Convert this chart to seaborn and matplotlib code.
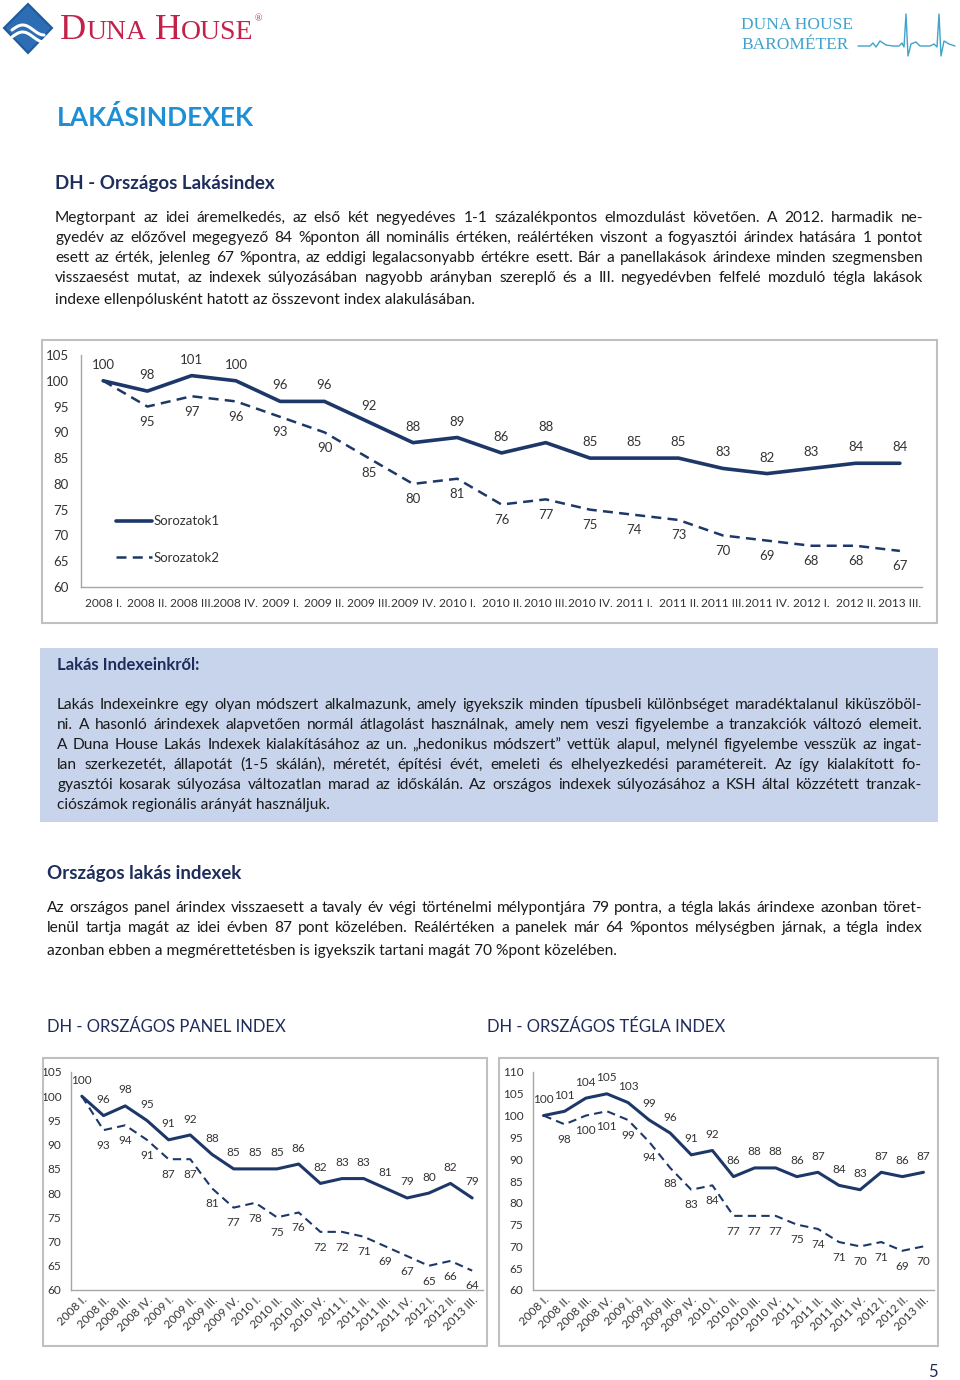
import numpy as np
import matplotlib
matplotlib.use("Agg")
import matplotlib.pyplot as plt
import seaborn as sns
import pandas as pd
from matplotlib.patches import Rectangle, Polygon
from matplotlib.lines import Line2D

# --- Data ---
quarters = ["2008 I.", "2008 II.", "2008 III.", "2008 IV.", "2009 I.", "2009 II.",
            "2009 III.", "2009 IV.", "2010 I.", "2010 II.", "2010 III.", "2010 IV.",
            "2011 I.", "2011 II.", "2011 III.", "2011 IV.", "2012 I.", "2012 II.", "2013 III."]

orszagos_nominal = [100, 98, 101, 100, 96, 96, 92, 88, 89, 86, 88, 85, 85, 85, 83, 82, 83, 84, 84]
orszagos_real = [100, 95, 97, 96, 93, 90, 85, 80, 81, 76, 77, 75, 74, 73, 70, 69, 68, 68, 67]

panel_nominal = [100, 96, 98, 95, 91, 92, 88, 85, 85, 85, 86, 82, 83, 83, 81, 79, 80, 82, 79]
panel_real = [100, 93, 94, 91, 87, 87, 81, 77, 78, 75, 76, 72, 72, 71, 69, 67, 65, 66, 64]

tegla_nominal = [100, 101, 104, 105, 103, 99, 96, 91, 92, 86, 88, 88, 86, 87, 84, 83, 87, 86, 87]
tegla_real = [100, 98, 100, 101, 99, 94, 88, 83, 84, 77, 77, 77, 75, 74, 71, 70, 71, 69, 70]

series_names = ["Sorozatok1", "Sorozatok2"]

para1 = [
    "Megtorpant az idei áremelkedés, az első két negyedéves 1-1 százalékpontos elmozdulást követően. A 2012. harmadik ne-",
    "gyedév az előzővel megegyező 84 %ponton áll nominális értéken, reálértéken viszont a fogyasztói árindex hatására 1 pontot",
    "esett az érték, jelenleg 67 %pontra, az eddigi legalacsonyabb értékre esett. Bár a panellakások árindexe minden szegmensben",
    "visszaesést mutat, az indexek súlyozásában nagyobb arányban szereplő és a III. negyedévben felfelé mozduló tégla lakások",
    "indexe ellenpólusként hatott az összevont index alakulásában.",
]
para2 = [
    "Lakás Indexeinkre egy olyan módszert alkalmazunk, amely igyekszik minden típusbeli különbséget maradéktalanul kiküszöböl-",
    "ni. A hasonló árindexek alapvetően normál átlagolást használnak, amely nem veszi figyelembe a tranzakciók változó elemeit.",
    "A Duna House Lakás Indexek kialakításához az un. „hedonikus módszert” vettük alapul, melynél figyelembe vesszük az ingat-",
    "lan szerkezetét, állapotát (1-5 skálán), méretét, építési évét, emeleti és elhelyezkedési paramétereit. Az így kialakított fo-",
    "gyasztói kosarak súlyozása változatlan marad az időskálán. Az országos indexek súlyozásához a KSH által közzétett tranzak-",
    "ciószámok regionális arányát használjuk.",
]
para3 = [
    "Az országos panel árindex visszaesett a tavaly év végi történelmi mélypontjára 79 pontra, a tégla lakás árindexe azonban töret-",
    "lenül tartja magát az idei évben 87 pont közelében. Reálértéken a panelek már 64 %pontos mélységben járnak, a tégla index",
    "azonban ebben a megmérettetésben is igyekszik tartani magát 70 %pont közelében.",
]

# --- Style ---
sns.set_theme(style="white")
plt.rcParams['font.family'] = ['Lato', 'DejaVu Sans']

NAVY = "#1d3868"
HEAD = "#1f2d5c"
BLUE = "#1e8fd5"
BODY = "#1a1a1a"
GRAY = "#a6a6a6"
LAB = "#333333"
W, H = 960, 1380

fig = plt.figure(figsize=(9.6, 13.8), dpi=100)
renderer = fig.canvas.get_renderer()


def fx(x):
    return x / W


def fy(y):
    return 1 - y / H


def txt(x, y, s, **kw):
    return fig.text(fx(x), fy(y), s, **kw)


def box(x0, y0, x1, y1, **kw):
    fig.add_artist(Rectangle((fx(x0), fy(y1)), (x1 - x0) / W, (y1 - y0) / H,
                             transform=fig.transFigure, **kw))


def paragraph(lines, x0, x1, ys, size=11.2):
    for i, (line, y) in enumerate(zip(lines, ys)):
        if i == len(lines) - 1:
            txt(x0, y, line, fontsize=size, color=BODY, va='center')
            continue
        words = line.split(" ")
        objs = [txt(0, y, w, fontsize=size, color=BODY, va='center') for w in words]
        widths = [o.get_window_extent(renderer).width for o in objs]
        gap = (x1 - x0 - sum(widths)) / (len(words) - 1)
        x = x0
        for o, wd in zip(objs, widths):
            o.set_x(fx(x))
            x += wd + gap


# --- Header ---
diamond = [(28, 4), (52, 28), (28, 53), (4, 28)]
fig.add_artist(Polygon([(fx(a), fy(b)) for a, b in diamond], closed=True,
                       transform=fig.transFigure, fc="#2c6db4", ec="#1f5a9c", lw=1.5))
for dy in (0, 7):
    xs = np.linspace(12, 44, 30)
    ys = 30 + dy - 5 * np.sin((xs - 12) / 32 * np.pi * 1.5)
    fig.add_artist(Line2D(fx(xs), fy(ys), transform=fig.transFigure, color="white", lw=2.2))

x = 60
for piece, size in [("D", 26), ("UNA", 20), ("H", 26), ("OUSE", 20)]:
    t = txt(x, 39, piece, fontsize=size, color="#c3204a", family="Liberation Serif", va='baseline')
    x += t.get_window_extent(renderer).width + (9 if piece == "UNA" else 0)
txt(x + 1, 21, "®", fontsize=7, color="#c3204a", family="Liberation Serif", va='baseline')

txt(741, 25, "DUNA HOUSE", fontsize=12.5, color="#3fa3cc", family="Liberation Serif", va='center')
txt(741, 45, "BAROMÉTER", fontsize=12.5, color="#3fa3cc", family="Liberation Serif", va='center')
beat = [(858, 46), (870, 46), (873, 43), (876, 47), (880, 41), (886, 45), (893, 46), (899, 46),
        (902, 43), (904, 47), (906, 14), (908, 56), (911, 44), (916, 42), (920, 46), (930, 46),
        (934, 44), (937, 47), (939, 14), (941, 56), (944, 41), (949, 44), (955, 46)]
fig.add_artist(Line2D([fx(a) for a, b in beat], [fy(b) for a, b in beat],
                      transform=fig.transFigure, color="#3fa3cc", lw=1))

# --- Headings and text ---
txt(57, 118, "LAKÁSINDEXEK", fontsize=19, fontweight='bold', color=BLUE, va='center')
txt(55, 183, "DH - Országos Lakásindex", fontsize=13.5, fontweight='bold', color=HEAD, va='center')
paragraph(para1, 55, 923, [218, 238, 258, 278, 300])

box(40, 648, 938, 822, fc="#c8d4eb", ec="none")
txt(57, 665, "Lakás Indexeinkről:", fontsize=12, fontweight='bold', color=HEAD, va='center')
paragraph(para2, 57, 922, [705, 725, 745, 765, 785, 805])

txt(47, 873, "Országos lakás indexek", fontsize=13.5, fontweight='bold', color=HEAD, va='center')
paragraph(para3, 47, 922, [908, 928, 951])

txt(47, 1027, "DH - ORSZÁGOS PANEL INDEX", fontsize=12, color=HEAD, va='center')
txt(487, 1027, "DH - ORSZÁGOS TÉGLA INDEX", fontsize=12, color=HEAD, va='center')
txt(928, 1372, "5", fontsize=12, color=HEAD, va='center')

# --- Chart frames ---
box(42, 340, 937, 623, fc="none", ec="#c0c0c0", lw=1.5)
box(43, 1058, 487, 1346, fc="none", ec="#c0c0c0", lw=1.5)
box(499, 1058, 938, 1346, fc="none", ec="#c0c0c0", lw=1.5)


def index_chart(px, nominal, real, ylim, lw, fs, rotate, xfs):
    x0, y0, x1, y1 = px
    ax = fig.add_axes([fx(x0), fy(y1), (x1 - x0) / W, (y1 - y0) / H])
    df = pd.DataFrame({"q": np.arange(len(quarters)), "nominal": nominal, "real": real})
    sns.lineplot(data=df, x="q", y="nominal", ax=ax, color=NAVY, lw=lw[0],
                 label=series_names[0], solid_joinstyle='round', solid_capstyle='round')
    sns.lineplot(data=df, x="q", y="real", ax=ax, color=NAVY, lw=lw[1],
                 dashes=False, linestyle=(0, (4, 2.5)), label=series_names[1])
    for i, (a, b) in enumerate(zip(nominal, real)):
        ax.annotate(f"{a}", (i, a), xytext=(0, 11.5), textcoords='offset points',
                    ha='center', va='center', fontsize=fs, color=LAB)
        if i > 0:
            ax.annotate(f"{b}", (i, b), xytext=(0, -11), textcoords='offset points',
                        ha='center', va='center', fontsize=fs, color=LAB)
    ax.set_xlim(-0.5, len(quarters) - 0.5)
    ax.set_ylim(*ylim)
    ax.set_yticks(np.arange(ylim[0], ylim[1] + 1, 5))
    ax.set_xticks(np.arange(len(quarters)))
    ax.set_xlabel("")
    ax.set_ylabel("")
    for s in ("top", "right"):
        ax.spines[s].set_visible(False)
    for s in ("left", "bottom"):
        ax.spines[s].set_color(GRAY)
        ax.spines[s].set_linewidth(1)
    ax.tick_params(length=0, labelsize=fs, colors=LAB)
    ax.set_facecolor("none")
    if rotate:
        ax.set_xticklabels(quarters, rotation=45, ha='right', rotation_mode='anchor', fontsize=xfs)
        ax.tick_params(axis='x', pad=3)
        ax.tick_params(axis='y', pad=7)
    else:
        ax.set_xticklabels(quarters, fontsize=xfs)
        ax.tick_params(axis='x', pad=8)
        ax.tick_params(axis='y', pad=9)
    return ax


ax_main = index_chart((81, 355, 922, 587), orszagos_nominal, orszagos_real, (60, 105),
                      (2.6, 1.8), 9.5, False, 8.6)
ax_main.legend(loc='upper left', bbox_to_anchor=(0.028, 0.36), frameon=False, fontsize=9.5,
               handlelength=2.7, handletextpad=0.1, labelspacing=1.85, labelcolor=LAB)

ax_panel = index_chart((71, 1072, 483, 1290), panel_nominal, panel_real, (60, 105),
                       (2.2, 1.5), 8.5, True, 8.5)
ax_panel.get_legend().remove()
ax_tegla = index_chart((533, 1072, 934, 1290), tegla_nominal, tegla_real, (60, 110),
                       (2.2, 1.5), 8.5, True, 8.5)
ax_tegla.get_legend().remove()

fig.savefig("out.png", dpi=100)
